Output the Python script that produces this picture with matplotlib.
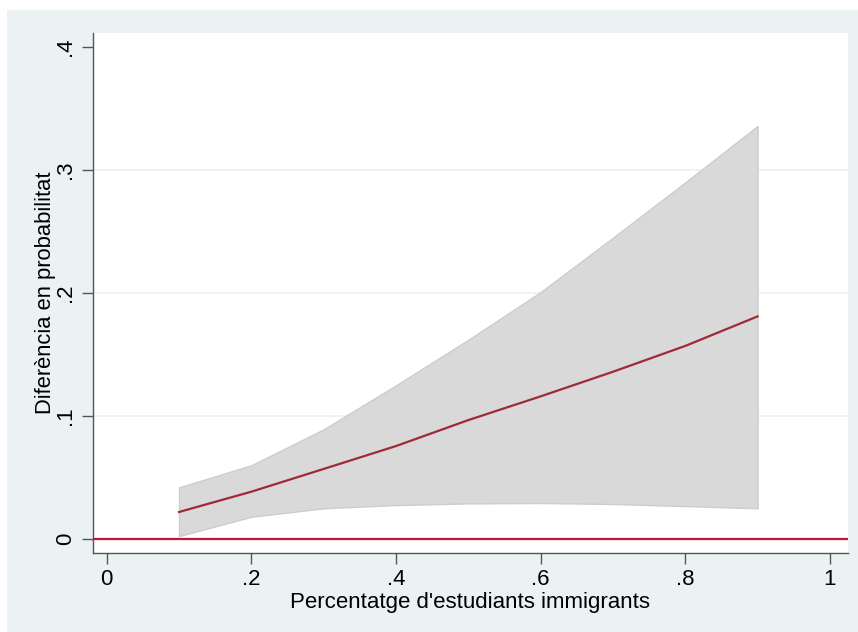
import matplotlib
matplotlib.use("Agg")
import matplotlib.pyplot as plt
from matplotlib.patches import Rectangle

# Marginal effect of the immigrant share, with 95% confidence band
share = [0.1, 0.2, 0.3, 0.4, 0.5, 0.6, 0.7, 0.8, 0.9]
effect = [0.022, 0.0385, 0.057, 0.0756, 0.0967, 0.116, 0.136, 0.157, 0.181]
ci_low = [0.0024, 0.0181, 0.025, 0.0276, 0.029, 0.0293, 0.0285, 0.0268, 0.025]
ci_high = [0.042, 0.060, 0.0892, 0.125, 0.162, 0.2008, 0.245, 0.290, 0.3358]

x_ticks = [0, 0.2, 0.4, 0.6, 0.8, 1.0]
x_tick_labels = ["0", ".2", ".4", ".6", ".8", "1"]
y_ticks = [0, 0.1, 0.2, 0.3, 0.4]
y_tick_labels = ["0", ".1", ".2", ".3", ".4"]

plt.rcParams["font.family"] = ["Liberation Sans", "DejaVu Sans"]

W, H = 858, 632
fig = plt.figure(figsize=(W / 100, H / 100), dpi=100)
fig.patch.set_facecolor("white")
# graph region background
fig.patches.append(Rectangle((7 / W, 0), 1 - 7 / W, (H - 10) / H,
                             transform=fig.transFigure, facecolor="#eaf2f3",
                             edgecolor="none", zorder=-10))

ax = fig.add_axes([92.7 / W, (H - 552.7) / H, (848 - 92.7) / W, (552.7 - 33) / H])
ax.set_zorder(5)
ax.set_facecolor("white")

ax.fill_between(share, ci_low, ci_high, facecolor="#d9d9d9", edgecolor="#cdcdcd",
                linewidth=1.0, zorder=2)
ax.plot(share, effect, color="#9e2a36", linewidth=1.6, zorder=3)
ax.axhline(0, color="#c8103c", linewidth=1.6, zorder=4)

ax.set_xlim(-0.0194, 1.025)
ax.set_ylim(-0.0111, 0.4114)

ax.set_xticks(x_ticks)
ax.set_xticklabels(x_tick_labels)
ax.set_yticks(y_ticks)
ax.set_yticklabels(y_tick_labels, rotation=90, va="center")

for yv in y_ticks[1:4]:
    ax.axhline(yv, color="#eaf2f3", linewidth=1.2, zorder=1)

for s in ["top", "right"]:
    ax.spines[s].set_visible(False)
for s in ["left", "bottom"]:
    ax.spines[s].set_color("#555555")
    ax.spines[s].set_linewidth(1.0)

ax.tick_params(axis="both", direction="out", length=8, width=1.0, color="#555555",
               labelsize=16, labelcolor="black", pad=4)

ax.set_xlabel("Percentatge d'estudiants immigrants", fontsize=16, labelpad=1)
ax.set_ylabel("Diferència en probabilitat", fontsize=15.8, labelpad=-0.5)

fig.savefig("out.png", dpi=100, facecolor=fig.get_facecolor())
